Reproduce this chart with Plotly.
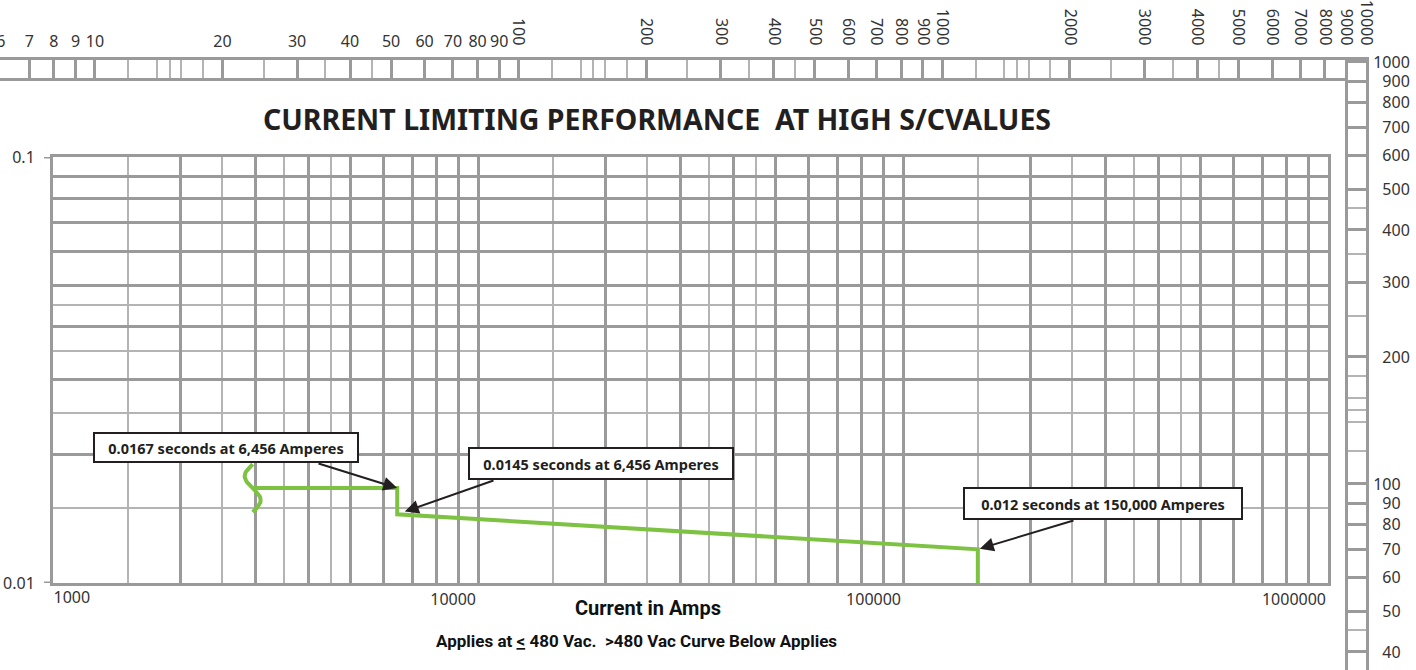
import math
import plotly.graph_objects as go

# ------------------------------------------------------------------ data
curve_amps = [2950, 6456, 6456, 150000, 150000]
curve_secs = [0.0167, 0.0167, 0.0145, 0.012, 0.01]

callout_text = ["0.0167 seconds at 6,456 Amperes",
                "0.0145 seconds at 6,456 Amperes",
                "0.012 seconds at 150,000 Amperes"]
callout_amps = [6456, 6456, 150000]
callout_secs = [0.0167, 0.0145, 0.012]

main_x_labels_right = [1000]
main_x_labels_left = [10000, 100000, 1000000]
main_y_labels = [0.01, 0.1]
main_grid_major = [1, 2, 3, 4, 5, 6, 7, 8, 9]
main_grid_minor = [1.5, 2.5, 3.5, 4.5]

top_labels_flat = [6, 7, 8, 9, 10, 20, 30, 40, 50, 60, 70, 80, 90]
top_labels_rot = [100, 200, 300, 400, 500, 600, 700, 800, 900,
                  1000, 2000, 3000, 4000, 5000, 6000, 7000, 8000, 9000, 10000]
right_labels = [40, 50, 60, 70, 80, 90, 100, 200, 300, 400, 500,
                600, 700, 800, 900, 1000]
strip_grid_major = [1, 2, 3, 4, 5, 6, 7, 8, 9]
strip_grid_minor = [1.2, 1.4, 1.5, 1.6, 1.8, 2.5, 3.5, 4.5]

title_text = "<b>CURRENT LIMITING PERFORMANCE\u00a0 AT HIGH S/CVALUES</b>"
x_title = "<b>Current in Amps</b>"
note_text = "<b>Applies at <u>&lt;</u> 480 Vac.\u00a0 &gt;480 Vac Curve Below Applies</b>"

# ------------------------------------------------------------------ layout constants
W, H = 1416, 670
MAIN = dict(l=53, r=1328, t=157, b=583)
MAIN_XR = [3, 6]
MAIN_YR = [-2, -1]
TOP = dict(l=0, r=1366, t=60, b=78)
TOP_XR = [0.776, 4]
RIGHT = dict(l=1348, r=1366, t=60, b=670)
RIGHT_YR = [1.5592, 3.0047]

GRID_DARK = "#9a9a9a"
GRID_LIGHT = "#b4b4b4"
TXT = "#333333"
INK = "#231f20"
GREEN = "#7dc243"
FONT = "Noto Sans"


def px(x):
    return x / W


def py(y):
    return 1 - y / H


def grid_vals(mults, lo, hi):
    out = []
    for k in range(-3, 8):
        for m in mults:
            v = m * 10 ** k
            if lo * (1 - 1e-9) <= v <= hi * (1 + 1e-9):
                out.append(v)
    return sorted(set(round(v, 10) for v in out))


def fmt(v):
    if v >= 1:
        return str(int(round(v)))
    return ("%g" % v)


def main_px(a, s):
    fx = (math.log10(a) - MAIN_XR[0]) / (MAIN_XR[1] - MAIN_XR[0])
    fy = (math.log10(s) - MAIN_YR[0]) / (MAIN_YR[1] - MAIN_YR[0])
    return MAIN["l"] + fx * (MAIN["r"] - MAIN["l"]), MAIN["b"] - fy * (MAIN["b"] - MAIN["t"])


fig = go.Figure()

fig.add_trace(go.Scatter(x=curve_amps, y=curve_secs, mode="lines",
                         line=dict(color=GREEN, width=4),
                         hoverinfo="skip", showlegend=False))

# break mark (S-shaped) at the start of the curve
ppd_x = (MAIN["r"] - MAIN["l"]) / (MAIN_XR[1] - MAIN_XR[0])
ppd_y = (MAIN["b"] - MAIN["t"]) / (MAIN_YR[1] - MAIN_YR[0])
n = 40
sx, sy = [], []
for i in range(n + 1):
    t = i / n
    dxp = -8 * math.sin(2 * math.pi * t)
    dyp = -24 + 48 * t
    sx.append(curve_amps[0] * 10 ** (dxp / ppd_x))
    sy.append(curve_secs[0] * 10 ** (-dyp / ppd_y))
fig.add_trace(go.Scatter(x=sx, y=sy, mode="lines", line=dict(color=GREEN, width=4),
                         hoverinfo="skip", showlegend=False))

# placeholder traces so the auxiliary scales render
for xa, ya, xv, yv in [("x2", "y2", 10, 0.5), ("x3", "y2", 10, 0.5),
                       ("x4", "y4", 0.5, 100), ("x5", "y", 2000, 0.05)]:
    fig.add_trace(go.Scatter(x=[xv], y=[yv], xaxis=xa, yaxis=ya, mode="markers",
                             marker=dict(opacity=0), hoverinfo="skip", showlegend=False))

mx_major = grid_vals(main_grid_major, 1000, 1e6)
mx_minor = grid_vals(main_grid_minor, 1000, 1e6)
my_major = grid_vals(main_grid_major, 0.01, 0.1)
my_minor = grid_vals(main_grid_minor, 0.01, 0.1)

top_lo, top_hi = 10 ** TOP_XR[0], 10 ** TOP_XR[1]
tx_major = grid_vals(strip_grid_major, top_lo, top_hi)
tx_minor = grid_vals(strip_grid_minor, top_lo, top_hi)
r_lo, r_hi = 10 ** RIGHT_YR[0], 10 ** RIGHT_YR[1]
ry_major = grid_vals(strip_grid_major, r_lo, r_hi)
ry_minor = grid_vals(strip_grid_minor, r_lo, r_hi)


def pad_label(v):
    s = fmt(v)
    if (v >= 200 and len(s) == 3) or (v < 100 and len(s) == 2):
        return "\u2007" + s
    return s


tick_font = dict(family=FONT, size=16, color=TXT)
hidden_tick = dict(ticks="outside", tickcolor="rgba(0,0,0,0)")

fig.update_layout(
    width=W, height=H, autosize=False,
    margin=dict(l=0, r=0, t=0, b=0, pad=0, autoexpand=False),
    paper_bgcolor="white", plot_bgcolor="white",
    showlegend=False,
    title=dict(text=title_text, x=px(657), y=py(120), xanchor="center", yanchor="middle",
               xref="paper", yref="paper", automargin=False,
               font=dict(family=FONT, size=28.5, color=INK)),
    xaxis=dict(
        domain=[px(MAIN["l"]), px(MAIN["r"])], anchor="y", type="log", range=MAIN_XR,
        automargin=False,
        tickmode="array", tickvals=mx_major,
        ticktext=[fmt(v) if v in main_x_labels_left else "" for v in mx_major],
        ticklabelposition="outside left", ticklabeloverflow="allow",
        ticklen=8, tickfont=tick_font, **hidden_tick,
        showgrid=True, gridcolor=GRID_DARK, gridwidth=3,
        minor=dict(tickmode="array", tickvals=mx_minor, showgrid=True,
                   gridcolor=GRID_LIGHT, gridwidth=2, ticks=""),
        showline=True, mirror=True, linecolor=GRID_DARK, linewidth=3,
        zeroline=False, fixedrange=True),
    xaxis5=dict(
        overlaying="x", anchor="y", type="log", range=MAIN_XR, automargin=False,
        tickmode="array", tickvals=main_x_labels_right,
        ticktext=[fmt(v) for v in main_x_labels_right],
        ticklabelposition="outside right", ticklabeloverflow="allow",
        ticklen=8, tickfont=tick_font, **hidden_tick,
        showgrid=False, showline=False, zeroline=False, fixedrange=True),
    yaxis=dict(
        domain=[py(MAIN["b"]), py(MAIN["t"])], anchor="x", type="log", range=MAIN_YR,
        automargin=False,
        tickmode="array", tickvals=my_major,
        ticktext=[fmt(v) if any(abs(v - l) < 1e-12 for l in main_y_labels) else "" for v in my_major],
        ticklen=12, tickfont=tick_font, **hidden_tick,
        showgrid=True, gridcolor=GRID_DARK, gridwidth=3,
        minor=dict(tickmode="array", tickvals=my_minor, showgrid=True,
                   gridcolor=GRID_LIGHT, gridwidth=2, ticks=""),
        showline=True, mirror=True, linecolor=GRID_DARK, linewidth=3,
        zeroline=False, fixedrange=True),
    xaxis2=dict(
        domain=[px(TOP["l"]), px(TOP["r"])], anchor="y2", side="top", type="log", range=TOP_XR,
        automargin=False, ticklabeloverflow="allow",
        tickmode="array", tickvals=tx_major,
        ticktext=[fmt(v) if v in top_labels_flat else "" for v in tx_major],
        ticklen=4, tickfont=tick_font, **hidden_tick,
        showgrid=True, gridcolor=GRID_DARK, gridwidth=3,
        minor=dict(tickmode="array", tickvals=tx_minor, showgrid=True,
                   gridcolor=GRID_LIGHT, gridwidth=2, ticks=""),
        showline=True, mirror=True, linecolor=GRID_DARK, linewidth=3,
        zeroline=False, fixedrange=True),
    xaxis3=dict(
        overlaying="x2", anchor="y2", side="top", type="log", range=TOP_XR,
        automargin=False, ticklabeloverflow="allow",
        tickmode="array", tickvals=top_labels_rot, ticktext=[fmt(v) for v in top_labels_rot],
        tickangle=90, ticklen=8, tickfont=tick_font, **hidden_tick,
        showgrid=False, zeroline=False, showline=False, fixedrange=True),
    yaxis2=dict(
        domain=[py(TOP["b"]), py(TOP["t"])], anchor="x2", range=[0, 1],
        automargin=False,
        showgrid=False, showticklabels=False, ticks="", zeroline=False,
        showline=True, mirror=True, linecolor=GRID_DARK, linewidth=3, fixedrange=True),
    xaxis4=dict(
        domain=[px(RIGHT["l"]), px(RIGHT["r"])], anchor="y4", range=[0, 1],
        automargin=False, visible=False, fixedrange=True),
    yaxis4=dict(
        domain=[py(RIGHT["b"]), py(RIGHT["t"])], anchor="x4", side="right", type="log",
        automargin=False, ticklabeloverflow="allow",
        range=RIGHT_YR, tickmode="array", tickvals=ry_major,
        ticktext=[pad_label(v) if v in right_labels else "" for v in ry_major],
        ticklen=1, tickfont=tick_font, **hidden_tick,
        showgrid=True, gridcolor=GRID_DARK, gridwidth=3,
        minor=dict(tickmode="array", tickvals=ry_minor, showgrid=True,
                   gridcolor=GRID_LIGHT, gridwidth=2, ticks=""),
        showline=True, mirror=True, linecolor=GRID_DARK, linewidth=3,
        zeroline=False, fixedrange=True),
)

for v in main_y_labels:
    fig.add_shape(type="line", xref="paper", yref="y",
                  x0=px(MAIN["l"] - 9), x1=px(MAIN["l"]), y0=v, y1=v,
                  line=dict(color=GRID_DARK, width=3))

box_centers = [(225.5, 447.5), (600.5, 463), (1102.5, 503)]
box_sizes = [(262, 27), (262, 29), (276, 29)]
arrow_tails = [(317, 463), (495, 480), (1075, 520)]
arrow_standoff = [0, 8, 2]

annotations = []
for txt, (cx, cy), (bw, bh) in zip(callout_text, box_centers, box_sizes):
    annotations.append(dict(text="<b>%s</b>" % txt, xref="paper", yref="paper",
                            x=px(cx), y=py(cy), xanchor="center", yanchor="middle",
                            width=bw, height=bh, showarrow=False, bgcolor="white",
                            bordercolor=INK, borderwidth=2, borderpad=0,
                            font=dict(family=FONT, size=14.5, color=INK)))
for a, s, (tx, ty), so in zip(callout_amps, callout_secs, arrow_tails, arrow_standoff):
    hx, hy = main_px(a, s)
    annotations.append(dict(text="", xref="x", yref="y",
                            x=math.log10(a), y=math.log10(s),
                            showarrow=True, ax=tx - hx, ay=ty - hy, axref="pixel", ayref="pixel",
                            arrowhead=2, arrowsize=1.4, arrowwidth=2, arrowcolor=INK,
                            standoff=so, font=dict(size=1)))

annotations.append(dict(text=x_title, xref="paper", yref="paper", x=px(648), y=py(608),
                        xanchor="center", yanchor="middle", showarrow=False,
                        font=dict(family="Roboto", size=20, color="#111111")))
annotations.append(dict(text=note_text, xref="paper", yref="paper", x=px(636), y=py(641),
                        xanchor="center", yanchor="middle", showarrow=False,
                        font=dict(family="Roboto", size=17, color="#111111")))
fig.update_layout(annotations=annotations)

fig.write_html(
    "out.html",
    config={"displayModeBar": False},
    post_script="document.body.style.margin='0';document.body.style.padding='0';"
                "document.documentElement.style.overflow='hidden';",
)
